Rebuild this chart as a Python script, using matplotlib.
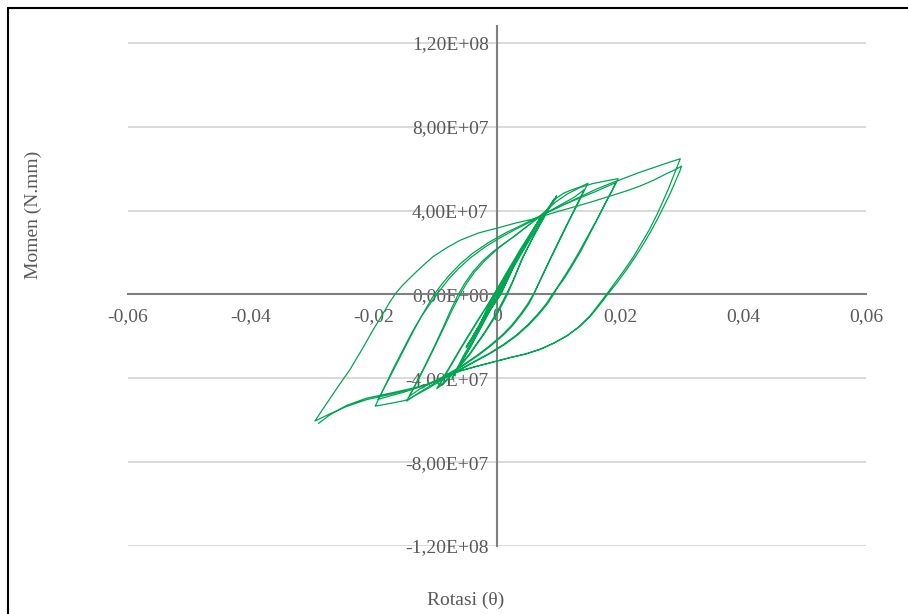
import matplotlib
matplotlib.use("Agg")
import matplotlib.pyplot as plt
from matplotlib.patches import Rectangle

plt.rcParams['font.family'] = ['Liberation Serif', 'DejaVu Serif']

E7 = 1e7

# small cycles (0.00375 and 0.005 rad)
pts_s1 = [(0, 0), (0.002, 1.0), (0.0038, 1.95), (0.0022, 1.1), (0.0004, 0), (-0.0018, -0.95),
          (-0.0038, -1.95), (-0.0022, -1.1), (-0.0003, 0), (0.0018, 0.95), (0.0038, 1.95),
          (0.0024, 1.2), (0.0005, 0), (-0.002, -1.05), (-0.0038, -1.95), (-0.0025, -1.3),
          (-0.0004, 0), (0.0025, 1.3), (0.005, 2.6), (0.003, 1.5), (0.0006, 0), (-0.0025, -1.35),
          (-0.005, -2.55), (-0.003, -1.6), (-0.0005, 0), (0.0025, 1.3), (0.005, 2.55),
          (0.003, 1.5), (0.0006, 0), (-0.0025, -1.35), (-0.005, -2.5), (-0.003, -1.55),
          (-0.0005, 0)]

# 0.0075 rad cycles
pts_s2 = [(-0.0005, 0), (0.002, 1.15), (0.0045, 2.4), (0.0065, 3.4), (0.0073, 3.8),
          (0.0055, 2.85), (0.003, 1.55), (0.0012, 0.55), (0.0002, 0), (-0.002, -1.2),
          (-0.0045, -2.6), (-0.0065, -3.6), (-0.0073, -4.0),
          (-0.0055, -3.05), (-0.003, -1.75), (-0.0012, -0.65), (-0.0001, 0), (0.002, 1.1),
          (0.0045, 2.35), (0.0065, 3.35), (0.0072, 3.7),
          (0.0055, 2.8), (0.003, 1.5), (0.0012, 0.5), (0.0003, 0), (-0.002, -1.25),
          (-0.0045, -2.6), (-0.0065, -3.55), (-0.0072, -3.95)]

# 0.01 rad cycles
pts_s3 = [(-0.0072, -3.95), (-0.0055, -2.95), (-0.003, -1.7), (-0.0008, -0.45), (0.0002, 0),
          (0.0025, 1.2), (0.005, 2.45), (0.007, 3.45), (0.0085, 4.15), (0.0097, 4.7),
          (0.0082, 3.95), (0.006, 2.8), (0.0042, 1.75), (0.0027, 0.7), (0.0017, 0),
          (0.0002, -0.85), (-0.002, -1.85), (-0.0045, -2.9), (-0.007, -3.75), (-0.0085, -4.2),
          (-0.0098, -4.5),
          (-0.0082, -3.7), (-0.006, -2.6), (-0.0035, -1.4), (-0.0012, -0.35), (-0.0005, 0),
          (0.0015, 1.0), (0.004, 2.2), (0.0065, 3.35), (0.008, 3.95), (0.0093, 4.55),
          (0.0078, 3.8), (0.0058, 2.7), (0.004, 1.65), (0.0026, 0.65), (0.0015, 0),
          (0.0, -0.85), (-0.002, -1.8), (-0.0045, -2.85), (-0.007, -3.7), (-0.0083, -4.1),
          (-0.0095, -4.4)]

# 0.015 rad cycles
pts_s4 = [(-0.0095, -4.4), (-0.008, -3.65), (-0.0058, -2.55), (-0.0035, -1.45), (-0.0012, -0.35),
          (-0.0004, 0), (0.0015, 1.0), (0.004, 2.25), (0.0065, 3.4), (0.0085, 4.2),
          (0.0097, 4.6), (0.0108, 4.82), (0.012, 4.97), (0.0135, 5.12), (0.0148, 5.3),
          (0.0141, 4.9), (0.0132, 4.35), (0.0118, 3.55), (0.0103, 2.65), (0.0088, 1.75),
          (0.0075, 0.95), (0.0066, 0.4), (0.006, 0), (0.0052, -0.45), (0.004, -0.95),
          (0.0025, -1.5), (0.001, -1.95), (-0.001, -2.45), (-0.003, -2.9), (-0.0055, -3.4),
          (-0.008, -3.85), (-0.0105, -4.3), (-0.0125, -4.65), (-0.0147, -5.09),
          (-0.014, -4.7), (-0.0131, -4.2), (-0.0118, -3.45), (-0.0103, -2.55), (-0.0088, -1.6),
          (-0.0076, -0.8), (-0.0068, -0.3), (-0.0063, 0), (-0.0053, 0.5), (-0.004, 1.05),
          (-0.0025, 1.55), (-0.0008, 2.0), (0.001, 2.4), (0.003, 2.8), (0.0045, 3.15),
          (0.006, 3.5), (0.0075, 3.8), (0.009, 4.05), (0.0105, 4.3), (0.0125, 4.62),
          (0.0142, 5.0),
          (0.0135, 4.6), (0.0126, 4.05), (0.0113, 3.3), (0.0098, 2.4), (0.0084, 1.55),
          (0.0072, 0.8), (0.0064, 0.3), (0.0059, 0), (0.005, -0.45), (0.0038, -0.95),
          (0.0023, -1.5), (0.0008, -1.95), (-0.0012, -2.45), (-0.0032, -2.9), (-0.0057, -3.4),
          (-0.008, -3.8), (-0.0105, -4.2), (-0.0125, -4.5), (-0.0142, -4.85)]

# 0.02 rad cycles
pts_s5 = [(-0.0142, -4.85), (-0.0135, -4.45), (-0.0125, -3.9), (-0.0112, -3.15), (-0.0098, -2.3),
          (-0.0085, -1.5), (-0.0073, -0.75), (-0.0065, -0.3), (-0.006, 0), (-0.005, 0.5),
          (-0.0037, 1.05), (-0.002, 1.6), (0.0, 2.15), (0.002, 2.6), (0.004, 3.05),
          (0.006, 3.5), (0.0078, 3.95), (0.0095, 4.4), (0.0115, 4.8), (0.0135, 5.1),
          (0.0155, 5.28), (0.0175, 5.4), (0.0197, 5.52),
          (0.019, 5.1), (0.018, 4.55), (0.0167, 3.8), (0.0152, 2.95), (0.0137, 2.1),
          (0.0122, 1.35), (0.0108, 0.7), (0.0098, 0.3), (0.0092, 0), (0.0082, -0.45),
          (0.0068, -0.95), (0.0052, -1.45), (0.0033, -1.95), (0.0012, -2.4), (-0.001, -2.8),
          (-0.0035, -3.2), (-0.006, -3.6), (-0.0085, -4.0), (-0.011, -4.45), (-0.0135, -4.85),
          (-0.0148, -5.05), (-0.017, -5.18), (-0.0198, -5.33),
          (-0.0191, -4.9), (-0.0181, -4.3), (-0.0168, -3.5), (-0.0153, -2.65), (-0.0138, -1.8),
          (-0.0123, -1.05), (-0.011, -0.5), (-0.0099, -0.05), (-0.009, 0.3), (-0.0078, 0.75),
          (-0.0062, 1.25), (-0.0043, 1.75), (-0.002, 2.25), (0.0005, 2.7), (0.003, 3.1),
          (0.006, 3.55), (0.0085, 3.95), (0.011, 4.3), (0.0135, 4.6), (0.016, 4.9),
          (0.0193, 5.33),
          (0.0186, 4.9), (0.0176, 4.35), (0.0163, 3.6), (0.0148, 2.8), (0.0133, 2.0),
          (0.0119, 1.3), (0.0105, 0.65), (0.0096, 0.25), (0.009, 0), (0.008, -0.45),
          (0.0066, -0.95), (0.005, -1.45), (0.0031, -1.95), (0.001, -2.4), (-0.0012, -2.8),
          (-0.0037, -3.2), (-0.0062, -3.6), (-0.0087, -3.95), (-0.0115, -4.3), (-0.015, -4.65),
          (-0.0193, -5.0)]

# 0.03 rad cycles
pts_s6 = [(-0.0193, -5.0), (-0.0186, -4.6), (-0.0176, -4.05), (-0.0163, -3.3), (-0.0149, -2.5),
          (-0.0135, -1.7), (-0.0122, -1.0), (-0.0111, -0.45), (-0.0102, 0), (-0.0092, 0.4),
          (-0.0078, 0.9), (-0.006, 1.45), (-0.004, 1.95), (-0.0015, 2.45), (0.0015, 2.95),
          (0.004, 3.3), (0.006, 3.6), (0.0085, 3.95), (0.011, 4.3), (0.0135, 4.65),
          (0.016, 5.0), (0.0185, 5.3), (0.0205, 5.52), (0.023, 5.8), (0.0255, 6.05),
          (0.028, 6.3), (0.0298, 6.47),
          (0.0293, 6.1), (0.0287, 5.65), (0.0279, 5.05), (0.027, 4.45), (0.026, 3.8),
          (0.0248, 3.1), (0.0235, 2.45), (0.0222, 1.8), (0.0208, 1.2), (0.0193, 0.6),
          (0.0178, 0), (0.0165, -0.5), (0.0151, -1.03), (0.0133, -1.55), (0.0113, -1.99),
          (0.0092, -2.33), (0.007, -2.62), (0.0046, -2.85), (0.0021, -3.02), (-0.001, -3.26),
          (-0.0035, -3.45), (-0.006, -3.65), (-0.0085, -3.95), (-0.0112, -4.3), (-0.0141, -4.55),
          (-0.0175, -4.78), (-0.0212, -5.02), (-0.0245, -5.35), (-0.0272, -5.7), (-0.0296, -6.04),
          (-0.0285, -5.55), (-0.027, -4.9), (-0.0255, -4.25), (-0.0239, -3.58), (-0.022, -2.65),
          (-0.0201, -1.67), (-0.0186, -0.95), (-0.0174, -0.35), (-0.0164, 0.08), (-0.0153, 0.45),
          (-0.0141, 0.8), (-0.0125, 1.25), (-0.0104, 1.8), (-0.0082, 2.22), (-0.006, 2.58),
          (-0.003, 2.93), (0.0005, 3.2), (0.003, 3.4), (0.006, 3.6), (0.0095, 3.92),
          (0.013, 4.21), (0.0158, 4.45), (0.0184, 4.69), (0.021, 4.93), (0.0233, 5.17),
          (0.0255, 5.45), (0.0275, 5.75), (0.029, 5.95), (0.03, 6.12),
          (0.0297, 5.85), (0.0291, 5.45), (0.0283, 4.9), (0.0273, 4.3), (0.0262, 3.65),
          (0.025, 3.0), (0.0237, 2.35), (0.0224, 1.75), (0.021, 1.15), (0.0195, 0.55),
          (0.018, 0), (0.0167, -0.5), (0.0153, -1.0), (0.0135, -1.52), (0.0115, -1.95),
          (0.0094, -2.3), (0.0072, -2.6), (0.0048, -2.83), (0.0023, -3.0), (-0.001, -3.25),
          (-0.0035, -3.44), (-0.006, -3.65), (-0.0085, -3.95), (-0.0112, -4.28), (-0.0141, -4.5),
          (-0.0175, -4.72), (-0.0212, -4.95), (-0.0245, -5.3), (-0.0272, -5.75), (-0.029, -6.15)]

x_ticks = [-0.06, -0.04, -0.02, 0, 0.02, 0.04, 0.06]
x_labels = ['-0,06', '-0,04', '-0,02', '0', '0,02', '0,04', '0,06']
y_ticks = [-1.2e8, -8e7, -4e7, 0, 4e7, 8e7, 1.2e8]
y_labels = ['-1,20E+08', '-8,00E+07', '-4,00E+07', '0,00E+00',
            '4,00E+07', '8,00E+07', '1,20E+08']

W, H = 908, 614
fig = plt.figure(figsize=(W / 100, H / 100), dpi=100)
ax = fig.add_axes([128 / W, (H - 546) / H, 738 / W, 520 / H])

green = '#00a650'
for pts in [pts_s1, pts_s2, pts_s3, pts_s4, pts_s5, pts_s6]:
    rot, mom = zip(*pts)
    ax.plot(rot, [m * E7 for m in mom], color=green, lw=0.9, zorder=3,
            solid_joinstyle='round')

ax.set_xlim(-0.06, 0.06)
ax.set_ylim(-1.2e8, 1.28e8)
ax.set_yticks(y_ticks)
ax.set_yticklabels(y_labels)
ax.set_xticks(x_ticks)
ax.set_xticklabels(x_labels)
ax.grid(axis='y', color='#d9d9d9', lw=1.4, zorder=0)
ax.grid(axis='x', visible=False)

for s in ['top', 'right']:
    ax.spines[s].set_visible(False)
ax.spines['left'].set_position(('data', 0))
ax.spines['bottom'].set_position(('data', 0))
for s in ['left', 'bottom']:
    ax.spines[s].set_color('#808080')
    ax.spines[s].set_linewidth(1.5)
    ax.spines[s].set_zorder(2)
ax.tick_params(length=0, labelsize=14, labelcolor='#595959')
ax.tick_params(axis='y', pad=6)
ax.tick_params(axis='x', pad=10)
ax.set_facecolor('none')

fig.text(33 / W, 1 - 215 / H, 'Momen (N.mm)', rotation=90, ha='center', va='center',
         fontsize=14, color='#595959')
fig.text(466 / W, 1 - 600 / H, 'Rotasi (θ)', ha='center', va='center',
         fontsize=14, color='#595959')

fig.patches.append(Rectangle((8 / W, -0.05), 1.2, 1 - 8 / H + 0.05, transform=fig.transFigure,
                             fill=False, edgecolor='black', lw=1.5))

fig.savefig('out.png', dpi=100)
